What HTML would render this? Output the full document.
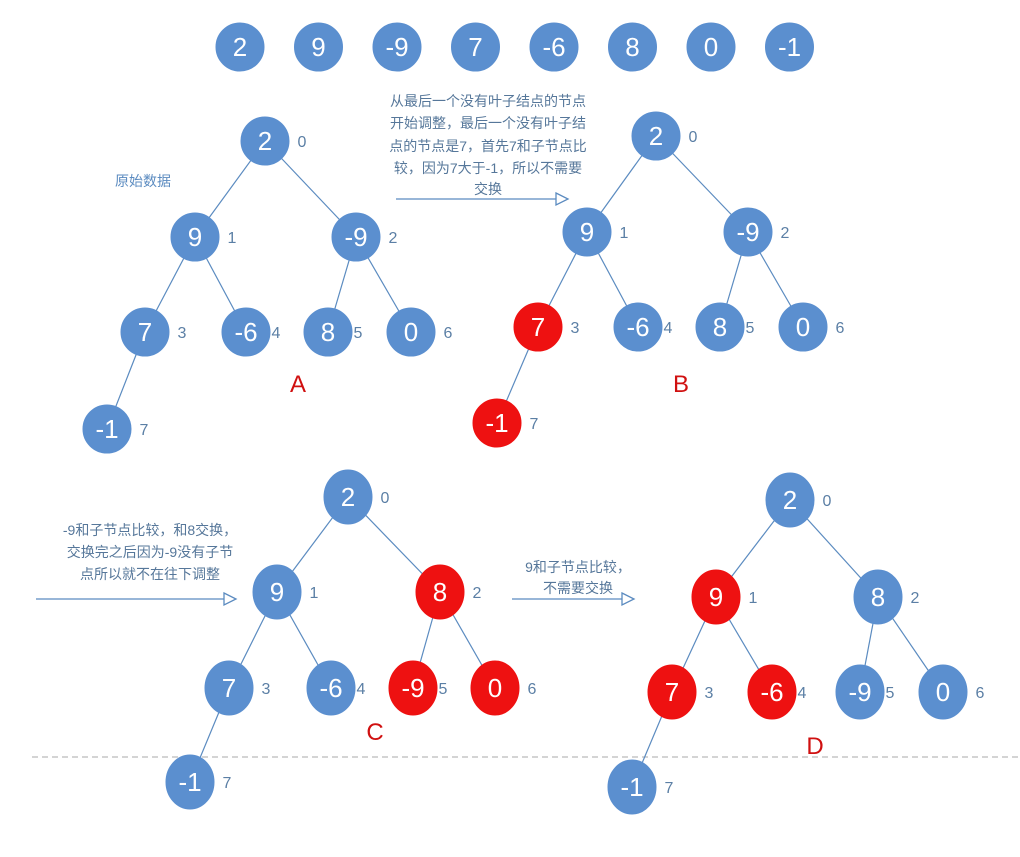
<!DOCTYPE html>
<html><head><meta charset="utf-8"><style>
html,body{margin:0;padding:0;background:#fff;}
svg{display:block;}
.t{font-family:"Liberation Sans","Noto Sans CJK SC",sans-serif;}
</style></head><body>
<svg id="s" width="1020" height="857" viewBox="0 0 1020 857">
<line x1="32" y1="757" x2="1020" y2="757" stroke="#aaa" stroke-dasharray="6,4" stroke-width="1"/>
<g id="g"></g>
<g class="t" fill="#56779a" font-size="14" text-anchor="middle">
<text x="488" y="106">从最后一个没有叶子结点的节点</text>
<text x="488" y="128">开始调整，最后一个没有叶子结</text>
<text x="488" y="151">点的节点是7，首先7和子节点比</text>
<text x="488" y="173">较，因为7大于-1，所以不需要</text>
<text x="488" y="194">交换</text>
</g>
<text class="t" x="143" y="186" font-size="14" fill="#5b8bc0" text-anchor="middle">原始数据</text>
<g class="t" fill="#56779a" font-size="14" text-anchor="middle">
<text x="150" y="535">-9和子节点比较，和8交换，</text>
<text x="150" y="557">交换完之后因为-9没有子节</text>
<text x="150" y="579">点所以就不在往下调整</text>
</g>
<g class="t" fill="#56779a" font-size="14" text-anchor="middle">
<text x="578" y="572">9和子节点比较，</text>
<text x="578" y="593">不需要交换</text>
</g>
<g stroke="#5b8bc0" stroke-width="1.3" fill="#fff">
<path d="M396 199 H556"/><path d="M556 193 L568 199 L556 205 Z"/>
<path d="M36 599 H224"/><path d="M224 593 L236 599 L224 605 Z"/>
<path d="M512 599 H622"/><path d="M622 593 L634 599 L622 605 Z"/>
</g>
</svg>
<script>
const topValues=["2","9","-9","7","-6","8","0","-1"];
const treeA=["2","9","-9","7","-6","8","0","-1"];
const treeB=["2","9","-9","7","-6","8","0","-1"];
const treeC=["2","9","8","7","-6","-9","0","-1"];
const treeD=["2","9","8","7","-6","-9","0","-1"];
const redB=[3,7];
const redC=[2,5,6];
const redD=[1,3,4];
const NS="http://www.w3.org/2000/svg";
const g=document.getElementById('g');
function mk(tag,attrs){const e=document.createElementNS(NS,tag);for(const k in attrs)e.setAttribute(k,attrs[k]);g.appendChild(e);return e;}
function node(x,y,v,red,ry){
  const c=mk('ellipse',{cx:x,cy:y,rx:24,ry:ry||24,fill:red?'#ee1111':'#5b8fcf',stroke:red?'#ee1111':'#5b8fcf'});
  
  
  const t=mk('text',{x:x,y:y+9,'font-size':26,fill:'#fff','text-anchor':'middle','class':'t'});
  t.textContent=v;
  
  
}
topValues.forEach((v,i)=>node(240+i*78.5,47,v,false));
function tree(pos,vals,reds,letter,lx,ly,ry){
  const par=[-1,0,0,1,1,2,2,3];
  for(let i=1;i<8;i++){const a=pos[par[i]],b=pos[i];
    const l=mk('line',{x1:a[0],y1:a[1],x2:b[0],y2:b[1],stroke:'#5b8bc0','stroke-width':1.2});
    
    }
  for(let i=0;i<8;i++){node(pos[i][0],pos[i][1],vals[i],reds.includes(i),ry);
    const t=mk('text',{x:pos[i][0]+(i>=4&&i<=5?30:37),y:pos[i][1]+6,'font-size':16,fill:'#5b7fa5','text-anchor':'middle','class':'t'});
    t.textContent=i;
    
    }
  const L=mk('text',{x:lx,y:ly,'font-size':24,fill:'#d01010','text-anchor':'middle','class':'t'});
  L.textContent=letter;
  
  
}
tree([[265,141],[195,237],[356,237],[145,332],[246,332],[328,332],[411,332],[107,429]],treeA,[],'A',298,392);
tree([[656,136],[587,232],[748,232],[538,327],[638,327],[720,327],[803,327],[497,423]],treeB,redB,'B',681,392);
tree([[348,497],[277,592],[440,592],[229,688],[331,688],[413,688],[495,688],[190,782]],treeC,redC,'C',375,740,27);
tree([[790,500],[716,597],[878,597],[672,692],[772,692],[860,692],[943,692],[632,787]],treeD,redD,'D',815,754,27);
</script>
</body></html>
